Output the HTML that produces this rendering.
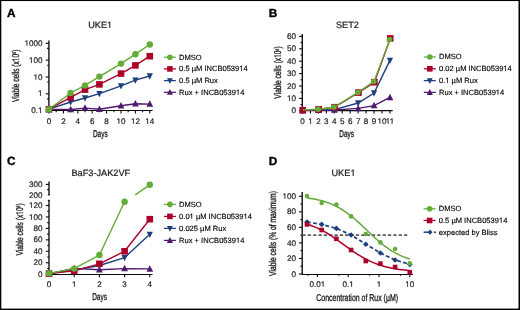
<!DOCTYPE html>
<html><head><meta charset="utf-8"><style>
html,body{margin:0;padding:0;background:#fff;}
svg{display:block;will-change:transform;}
text{font-family:"Liberation Sans",sans-serif;fill:#1a1a1a;text-rendering:geometricPrecision;}
.pl{font-size:11.8px;font-weight:bold;fill:#000;stroke:#000;stroke-width:0.35px;}
.ti{font-size:9.2px;stroke:#111;stroke-width:0.2px;}
.tk{font-size:8.1px;stroke:#1a1a1a;stroke-width:0.18px;}
.lg{font-size:7.55px;fill:#000;stroke:#000;stroke-width:0.14px;}
.ax{font-size:9.8px;stroke:#111;stroke-width:0.3px;}
.sup{font-size:5px;}
</style></head><body>
<svg width="520" height="310" viewBox="0 0 520 310">
<rect x="0" y="0" width="520" height="310" fill="#fff"/>
<rect x="0" y="0" width="520" height="1.05" fill="#000"/><rect x="0" y="0" width="1.3" height="310" fill="#000"/><rect x="518.5" y="0" width="1.5" height="310" fill="#000"/><rect x="0" y="308.6" width="520" height="1.4" fill="#000"/>
<text x="7.00" y="16.80" class="pl" text-anchor="start">A</text>
<text x="100.20" y="28.40" class="ti f1" text-anchor="middle">UKE1</text>
<line x1="48.90" y1="40.60" x2="48.90" y2="111.00" stroke="#0a0a0a" stroke-width="1.35"/>
<line x1="48.40" y1="110.50" x2="152.60" y2="110.50" stroke="#0a0a0a" stroke-width="1.1"/>
<line x1="45.70" y1="110.70" x2="48.90" y2="110.70" stroke="#0a0a0a" stroke-width="1.1"/>
<text x="42.60" y="113.30" class="tk f1" text-anchor="end">0.1</text>
<line x1="45.70" y1="93.85" x2="48.90" y2="93.85" stroke="#0a0a0a" stroke-width="1.1"/>
<text x="42.60" y="96.45" class="tk f1" text-anchor="end">1</text>
<line x1="45.70" y1="77.00" x2="48.90" y2="77.00" stroke="#0a0a0a" stroke-width="1.1"/>
<text x="42.60" y="79.60" class="tk f1" text-anchor="end">10</text>
<line x1="45.70" y1="60.15" x2="48.90" y2="60.15" stroke="#0a0a0a" stroke-width="1.1"/>
<text x="42.60" y="62.75" class="tk f1" text-anchor="end">100</text>
<line x1="45.70" y1="43.30" x2="48.90" y2="43.30" stroke="#0a0a0a" stroke-width="1.1"/>
<text x="42.60" y="45.90" class="tk f1" text-anchor="end">1000</text>
<line x1="47.10" y1="98.92" x2="48.90" y2="98.92" stroke="#0a0a0a" stroke-width="1.1"/>
<line x1="47.10" y1="82.07" x2="48.90" y2="82.07" stroke="#0a0a0a" stroke-width="1.1"/>
<line x1="47.10" y1="65.22" x2="48.90" y2="65.22" stroke="#0a0a0a" stroke-width="1.1"/>
<line x1="47.10" y1="48.37" x2="48.90" y2="48.37" stroke="#0a0a0a" stroke-width="1.1"/>
<line x1="49.00" y1="110.50" x2="49.00" y2="113.50" stroke="#0a0a0a" stroke-width="1.1"/>
<text x="49.00" y="123.60" class="tk" text-anchor="middle">0</text>
<line x1="56.20" y1="110.50" x2="56.20" y2="112.30" stroke="#0a0a0a" stroke-width="1.1"/>
<line x1="63.40" y1="110.50" x2="63.40" y2="113.50" stroke="#0a0a0a" stroke-width="1.1"/>
<text x="63.40" y="123.60" class="tk" text-anchor="middle">2</text>
<line x1="70.60" y1="110.50" x2="70.60" y2="112.30" stroke="#0a0a0a" stroke-width="1.1"/>
<line x1="77.80" y1="110.50" x2="77.80" y2="113.50" stroke="#0a0a0a" stroke-width="1.1"/>
<text x="77.80" y="123.60" class="tk" text-anchor="middle">4</text>
<line x1="85.00" y1="110.50" x2="85.00" y2="112.30" stroke="#0a0a0a" stroke-width="1.1"/>
<line x1="92.20" y1="110.50" x2="92.20" y2="113.50" stroke="#0a0a0a" stroke-width="1.1"/>
<text x="92.20" y="123.60" class="tk" text-anchor="middle">6</text>
<line x1="99.40" y1="110.50" x2="99.40" y2="112.30" stroke="#0a0a0a" stroke-width="1.1"/>
<line x1="106.60" y1="110.50" x2="106.60" y2="113.50" stroke="#0a0a0a" stroke-width="1.1"/>
<text x="106.60" y="123.60" class="tk" text-anchor="middle">8</text>
<line x1="113.80" y1="110.50" x2="113.80" y2="112.30" stroke="#0a0a0a" stroke-width="1.1"/>
<line x1="121.00" y1="110.50" x2="121.00" y2="113.50" stroke="#0a0a0a" stroke-width="1.1"/>
<text x="121.00" y="123.60" class="tk f1" text-anchor="middle">10</text>
<line x1="128.20" y1="110.50" x2="128.20" y2="112.30" stroke="#0a0a0a" stroke-width="1.1"/>
<line x1="135.40" y1="110.50" x2="135.40" y2="113.50" stroke="#0a0a0a" stroke-width="1.1"/>
<text x="135.40" y="123.60" class="tk f1" text-anchor="middle">12</text>
<line x1="142.60" y1="110.50" x2="142.60" y2="112.30" stroke="#0a0a0a" stroke-width="1.1"/>
<line x1="149.80" y1="110.50" x2="149.80" y2="113.50" stroke="#0a0a0a" stroke-width="1.1"/>
<text x="149.80" y="123.60" class="tk f1" text-anchor="middle">14</text>
<path d="M49.00,109.40 L70.60,109.50 L85.00,108.10 L99.40,109.30 L121.00,105.80 L135.40,103.80 L149.80,104.10" fill="none" stroke="#4e1a6e" stroke-width="1.4"/>
<path d="M45.60,112.13L52.40,112.13L49.00,105.63Z" fill="#4e1a6e"/>
<path d="M67.20,112.23L74.00,112.23L70.60,105.73Z" fill="#4e1a6e"/>
<path d="M81.60,110.83L88.40,110.83L85.00,104.33Z" fill="#4e1a6e"/>
<path d="M96.00,112.03L102.80,112.03L99.40,105.53Z" fill="#4e1a6e"/>
<path d="M117.60,108.53L124.40,108.53L121.00,102.03Z" fill="#4e1a6e"/>
<path d="M132.00,106.53L138.80,106.53L135.40,100.03Z" fill="#4e1a6e"/>
<path d="M146.40,106.83L153.20,106.83L149.80,100.33Z" fill="#4e1a6e"/>
<path d="M49.00,109.20 L70.60,102.00 L85.00,98.00 L99.40,93.60 L121.00,85.80 L135.40,80.20 L149.80,76.00" fill="none" stroke="#1d3f7c" stroke-width="1.4"/>
<path d="M45.90,106.55L52.10,106.55L49.00,112.85Z" fill="#1d3f7c"/>
<path d="M67.50,99.35L73.70,99.35L70.60,105.65Z" fill="#1d3f7c"/>
<path d="M81.90,95.35L88.10,95.35L85.00,101.65Z" fill="#1d3f7c"/>
<path d="M96.30,90.95L102.50,90.95L99.40,97.25Z" fill="#1d3f7c"/>
<path d="M117.90,83.15L124.10,83.15L121.00,89.45Z" fill="#1d3f7c"/>
<path d="M132.30,77.55L138.50,77.55L135.40,83.85Z" fill="#1d3f7c"/>
<path d="M146.70,73.35L152.90,73.35L149.80,79.65Z" fill="#1d3f7c"/>
<path d="M49.00,109.20 L70.60,97.40 L85.00,89.60 L99.40,84.40 L121.00,73.60 L135.40,65.40 L149.80,56.20" fill="none" stroke="#aa0029" stroke-width="1.4"/>
<rect x="45.70" y="105.90" width="6.6" height="6.6" fill="#aa0029"/>
<rect x="67.30" y="94.10" width="6.6" height="6.6" fill="#aa0029"/>
<rect x="81.70" y="86.30" width="6.6" height="6.6" fill="#aa0029"/>
<rect x="96.10" y="81.10" width="6.6" height="6.6" fill="#aa0029"/>
<rect x="117.70" y="70.30" width="6.6" height="6.6" fill="#aa0029"/>
<rect x="132.10" y="62.10" width="6.6" height="6.6" fill="#aa0029"/>
<rect x="146.50" y="52.90" width="6.6" height="6.6" fill="#aa0029"/>
<path d="M49.00,109.20 L70.60,93.00 L85.00,85.40 L99.40,76.60 L121.00,63.60 L135.40,54.20 L149.80,44.50" fill="none" stroke="#64ab38" stroke-width="1.4"/>
<circle cx="49.00" cy="109.20" r="3.2" fill="#64ab38"/>
<circle cx="70.60" cy="93.00" r="3.2" fill="#64ab38"/>
<circle cx="85.00" cy="85.40" r="3.2" fill="#64ab38"/>
<circle cx="99.40" cy="76.60" r="3.2" fill="#64ab38"/>
<circle cx="121.00" cy="63.60" r="3.2" fill="#64ab38"/>
<circle cx="135.40" cy="54.20" r="3.2" fill="#64ab38"/>
<circle cx="149.80" cy="44.50" r="3.2" fill="#64ab38"/>
<text class="ax" transform="translate(100.30,136.60) scale(0.66,1)" text-anchor="middle">Days</text>
<g transform="translate(18.60,75.80) rotate(-90) scale(0.677,1)"><text id="yt1" class="ax f1" x="0" y="0" text-anchor="middle">Viable cells (x10<tspan class="sup" dy="-2.6">6</tspan><tspan dy="2.6">)</tspan></text>
<rect x="21.79" y="-1.13" width="2.15" height="1.63" fill="#fff"/>
<rect x="25.14" y="-1.13" width="1.97" height="1.63" fill="#fff"/>
</g>
<path d="M163.90,57.20 L175.90,57.20" fill="none" stroke="#64ab38" stroke-width="1.25"/>
<circle cx="169.90" cy="57.20" r="2.8" fill="#64ab38"/>
<text x="179.10" y="59.50" class="lg" text-anchor="start">DMSO</text>
<path d="M163.90,68.90 L175.90,68.90" fill="none" stroke="#aa0029" stroke-width="1.25"/>
<rect x="167.10" y="66.10" width="5.6" height="5.6" fill="#aa0029"/>
<text x="179.10" y="71.20" class="lg f1" text-anchor="start">0.5 µM INCB053914</text>
<path d="M163.90,80.60 L175.90,80.60" fill="none" stroke="#1d3f7c" stroke-width="1.25"/>
<path d="M167.00,78.16L172.80,78.16L169.90,83.96Z" fill="#1d3f7c"/>
<text x="179.10" y="82.90" class="lg" text-anchor="start">0.5 µM Rux</text>
<path d="M163.90,92.30 L175.90,92.30" fill="none" stroke="#4e1a6e" stroke-width="1.25"/>
<path d="M166.80,94.78L173.00,94.78L169.90,88.88Z" fill="#4e1a6e"/>
<text x="179.10" y="94.60" class="lg f1" text-anchor="start">Rux + INCB053914</text>
<text x="268.80" y="17.20" class="pl" text-anchor="start">B</text>
<text x="347.40" y="28.40" class="ti" text-anchor="middle">SET2</text>
<line x1="302.30" y1="34.00" x2="302.30" y2="111.10" stroke="#0a0a0a" stroke-width="1.35"/>
<line x1="301.80" y1="110.60" x2="392.70" y2="110.60" stroke="#0a0a0a" stroke-width="1.1"/>
<line x1="299.10" y1="110.80" x2="302.30" y2="110.80" stroke="#0a0a0a" stroke-width="1.1"/>
<text x="296.00" y="113.40" class="tk" text-anchor="end">0</text>
<line x1="299.10" y1="98.40" x2="302.30" y2="98.40" stroke="#0a0a0a" stroke-width="1.1"/>
<text x="296.00" y="101.00" class="tk f1" text-anchor="end">10</text>
<line x1="299.10" y1="86.00" x2="302.30" y2="86.00" stroke="#0a0a0a" stroke-width="1.1"/>
<text x="296.00" y="88.60" class="tk" text-anchor="end">20</text>
<line x1="299.10" y1="73.60" x2="302.30" y2="73.60" stroke="#0a0a0a" stroke-width="1.1"/>
<text x="296.00" y="76.20" class="tk" text-anchor="end">30</text>
<line x1="299.10" y1="61.20" x2="302.30" y2="61.20" stroke="#0a0a0a" stroke-width="1.1"/>
<text x="296.00" y="63.80" class="tk" text-anchor="end">40</text>
<line x1="299.10" y1="48.80" x2="302.30" y2="48.80" stroke="#0a0a0a" stroke-width="1.1"/>
<text x="296.00" y="51.40" class="tk" text-anchor="end">50</text>
<line x1="299.10" y1="36.40" x2="302.30" y2="36.40" stroke="#0a0a0a" stroke-width="1.1"/>
<text x="296.00" y="39.00" class="tk" text-anchor="end">60</text>
<line x1="300.50" y1="104.60" x2="302.30" y2="104.60" stroke="#0a0a0a" stroke-width="1.1"/>
<line x1="300.50" y1="92.20" x2="302.30" y2="92.20" stroke="#0a0a0a" stroke-width="1.1"/>
<line x1="300.50" y1="79.80" x2="302.30" y2="79.80" stroke="#0a0a0a" stroke-width="1.1"/>
<line x1="300.50" y1="67.40" x2="302.30" y2="67.40" stroke="#0a0a0a" stroke-width="1.1"/>
<line x1="300.50" y1="55.00" x2="302.30" y2="55.00" stroke="#0a0a0a" stroke-width="1.1"/>
<line x1="300.50" y1="42.60" x2="302.30" y2="42.60" stroke="#0a0a0a" stroke-width="1.1"/>
<line x1="302.50" y1="110.60" x2="302.50" y2="113.60" stroke="#0a0a0a" stroke-width="1.1"/>
<text x="302.50" y="123.60" class="tk" text-anchor="middle">0</text>
<line x1="310.45" y1="110.60" x2="310.45" y2="113.60" stroke="#0a0a0a" stroke-width="1.1"/>
<text x="310.45" y="123.60" class="tk f1" text-anchor="middle">1</text>
<line x1="318.40" y1="110.60" x2="318.40" y2="113.60" stroke="#0a0a0a" stroke-width="1.1"/>
<text x="318.40" y="123.60" class="tk" text-anchor="middle">2</text>
<line x1="326.35" y1="110.60" x2="326.35" y2="113.60" stroke="#0a0a0a" stroke-width="1.1"/>
<text x="326.35" y="123.60" class="tk" text-anchor="middle">3</text>
<line x1="334.30" y1="110.60" x2="334.30" y2="113.60" stroke="#0a0a0a" stroke-width="1.1"/>
<text x="334.30" y="123.60" class="tk" text-anchor="middle">4</text>
<line x1="342.25" y1="110.60" x2="342.25" y2="113.60" stroke="#0a0a0a" stroke-width="1.1"/>
<text x="342.25" y="123.60" class="tk" text-anchor="middle">5</text>
<line x1="350.20" y1="110.60" x2="350.20" y2="113.60" stroke="#0a0a0a" stroke-width="1.1"/>
<text x="350.20" y="123.60" class="tk" text-anchor="middle">6</text>
<line x1="358.15" y1="110.60" x2="358.15" y2="113.60" stroke="#0a0a0a" stroke-width="1.1"/>
<text x="358.15" y="123.60" class="tk" text-anchor="middle">7</text>
<line x1="366.10" y1="110.60" x2="366.10" y2="113.60" stroke="#0a0a0a" stroke-width="1.1"/>
<text x="366.10" y="123.60" class="tk" text-anchor="middle">8</text>
<line x1="374.05" y1="110.60" x2="374.05" y2="113.60" stroke="#0a0a0a" stroke-width="1.1"/>
<text x="374.05" y="123.60" class="tk" text-anchor="middle">9</text>
<line x1="382.00" y1="110.60" x2="382.00" y2="113.60" stroke="#0a0a0a" stroke-width="1.1"/>
<text x="382.00" y="123.60" class="tk f1" text-anchor="middle">10</text>
<line x1="389.95" y1="110.60" x2="389.95" y2="113.60" stroke="#0a0a0a" stroke-width="1.1"/>
<text x="389.95" y="123.60" class="tk f1" text-anchor="middle">11</text>
<path d="M302.50,110.40 L318.40,110.20 L334.30,110.00 L358.15,108.40 L374.05,105.60 L389.95,97.40" fill="none" stroke="#4e1a6e" stroke-width="1.4"/>
<path d="M299.10,113.13L305.90,113.13L302.50,106.63Z" fill="#4e1a6e"/>
<path d="M315.00,112.93L321.80,112.93L318.40,106.43Z" fill="#4e1a6e"/>
<path d="M330.90,112.73L337.70,112.73L334.30,106.23Z" fill="#4e1a6e"/>
<path d="M354.75,111.13L361.55,111.13L358.15,104.63Z" fill="#4e1a6e"/>
<path d="M370.65,108.33L377.45,108.33L374.05,101.83Z" fill="#4e1a6e"/>
<path d="M386.55,100.13L393.35,100.13L389.95,93.63Z" fill="#4e1a6e"/>
<path d="M302.50,110.20 L318.40,110.00 L334.30,109.60 L358.15,103.00 L374.05,93.00 L389.95,60.40" fill="none" stroke="#1d3f7c" stroke-width="1.4"/>
<path d="M299.40,107.55L305.60,107.55L302.50,113.85Z" fill="#1d3f7c"/>
<path d="M315.30,107.35L321.50,107.35L318.40,113.65Z" fill="#1d3f7c"/>
<path d="M331.20,106.95L337.40,106.95L334.30,113.25Z" fill="#1d3f7c"/>
<path d="M355.05,100.35L361.25,100.35L358.15,106.65Z" fill="#1d3f7c"/>
<path d="M370.95,90.35L377.15,90.35L374.05,96.65Z" fill="#1d3f7c"/>
<path d="M386.85,57.75L393.05,57.75L389.95,64.05Z" fill="#1d3f7c"/>
<path d="M302.80,110.20 L318.70,109.40 L334.60,107.20 L358.45,92.60 L374.35,82.20 L390.25,38.40" fill="none" stroke="#aa0029" stroke-width="1.4"/>
<rect x="299.50" y="106.90" width="6.6" height="6.6" fill="#aa0029"/>
<rect x="315.40" y="106.10" width="6.6" height="6.6" fill="#aa0029"/>
<rect x="331.30" y="103.90" width="6.6" height="6.6" fill="#aa0029"/>
<rect x="355.15" y="89.30" width="6.6" height="6.6" fill="#aa0029"/>
<rect x="371.05" y="78.90" width="6.6" height="6.6" fill="#aa0029"/>
<rect x="386.95" y="35.10" width="6.6" height="6.6" fill="#aa0029"/>
<path d="M302.50,110.00 L318.40,109.20 L334.30,107.00 L358.15,92.40 L374.05,81.40 L389.95,39.60" fill="none" stroke="#64ab38" stroke-width="1.4"/>
<circle cx="318.10" cy="109.20" r="2.75" fill="#64ab38"/>
<circle cx="334.00" cy="107.00" r="2.75" fill="#64ab38"/>
<circle cx="357.85" cy="92.40" r="2.75" fill="#64ab38"/>
<circle cx="373.75" cy="81.40" r="2.75" fill="#64ab38"/>
<circle cx="389.65" cy="39.60" r="2.75" fill="#64ab38"/>
<text class="ax" transform="translate(346.70,136.80) scale(0.66,1)" text-anchor="middle">Days</text>
<g transform="translate(281.30,72.50) rotate(-90) scale(0.677,1)"><text id="yt2" class="ax f1" x="0" y="0" text-anchor="middle">Viable cells (x10<tspan class="sup" dy="-2.6">6</tspan><tspan dy="2.6">)</tspan></text>
<rect x="21.79" y="-1.13" width="2.15" height="1.63" fill="#fff"/>
<rect x="25.14" y="-1.13" width="1.97" height="1.63" fill="#fff"/>
</g>
<path d="M423.80,57.00 L435.80,57.00" fill="none" stroke="#64ab38" stroke-width="1.25"/>
<circle cx="429.80" cy="57.00" r="2.8" fill="#64ab38"/>
<text x="439.00" y="59.30" class="lg" text-anchor="start">DMSO</text>
<path d="M423.80,68.80 L435.80,68.80" fill="none" stroke="#aa0029" stroke-width="1.25"/>
<rect x="427.00" y="66.00" width="5.6" height="5.6" fill="#aa0029"/>
<text x="439.00" y="71.10" class="lg f1" text-anchor="start">0.02 µM INCB053914</text>
<path d="M423.80,80.60 L435.80,80.60" fill="none" stroke="#1d3f7c" stroke-width="1.25"/>
<path d="M426.90,78.16L432.70,78.16L429.80,83.96Z" fill="#1d3f7c"/>
<text x="439.00" y="82.90" class="lg f1" text-anchor="start">0.1 µM Rux</text>
<path d="M423.80,92.40 L435.80,92.40" fill="none" stroke="#4e1a6e" stroke-width="1.25"/>
<path d="M426.70,94.88L432.90,94.88L429.80,88.98Z" fill="#4e1a6e"/>
<text x="439.00" y="94.70" class="lg f1" text-anchor="start">Rux + INCB053914</text>
<text x="7.10" y="164.80" class="pl" text-anchor="start">C</text>
<text x="100.80" y="176.00" class="ti" text-anchor="middle">BaF3-JAK2VF</text>
<line x1="49.00" y1="181.40" x2="49.00" y2="195.00" stroke="#0a0a0a" stroke-width="1.35"/>
<line x1="47.80" y1="194.90" x2="49.80" y2="194.90" stroke="#0a0a0a" stroke-width="1.1"/>
<line x1="45.80" y1="184.40" x2="49.00" y2="184.40" stroke="#0a0a0a" stroke-width="1.1"/>
<text x="42.40" y="187.00" class="tk" text-anchor="end">300</text>
<line x1="47.20" y1="189.65" x2="49.00" y2="189.65" stroke="#0a0a0a" stroke-width="1.1"/>
<text x="42.40" y="197.50" class="tk" text-anchor="end">200</text>
<line x1="49.00" y1="200.30" x2="49.00" y2="274.70" stroke="#0a0a0a" stroke-width="1.35"/>
<line x1="47.80" y1="200.40" x2="49.80" y2="200.40" stroke="#0a0a0a" stroke-width="1.1"/>
<line x1="45.80" y1="274.20" x2="49.00" y2="274.20" stroke="#0a0a0a" stroke-width="1.1"/>
<text x="42.40" y="276.80" class="tk" text-anchor="end">0</text>
<line x1="45.80" y1="262.75" x2="49.00" y2="262.75" stroke="#0a0a0a" stroke-width="1.1"/>
<text x="42.40" y="265.35" class="tk" text-anchor="end">20</text>
<line x1="45.80" y1="251.30" x2="49.00" y2="251.30" stroke="#0a0a0a" stroke-width="1.1"/>
<text x="42.40" y="253.90" class="tk" text-anchor="end">40</text>
<line x1="45.80" y1="239.85" x2="49.00" y2="239.85" stroke="#0a0a0a" stroke-width="1.1"/>
<text x="42.40" y="242.45" class="tk" text-anchor="end">60</text>
<line x1="45.80" y1="228.40" x2="49.00" y2="228.40" stroke="#0a0a0a" stroke-width="1.1"/>
<text x="42.40" y="231.00" class="tk" text-anchor="end">80</text>
<line x1="45.80" y1="216.95" x2="49.00" y2="216.95" stroke="#0a0a0a" stroke-width="1.1"/>
<text x="42.40" y="219.55" class="tk f1" text-anchor="end">100</text>
<line x1="45.80" y1="205.50" x2="49.00" y2="205.50" stroke="#0a0a0a" stroke-width="1.1"/>
<text x="42.40" y="208.10" class="tk f1" text-anchor="end">120</text>
<line x1="47.20" y1="268.47" x2="49.00" y2="268.47" stroke="#0a0a0a" stroke-width="1.1"/>
<line x1="47.20" y1="257.02" x2="49.00" y2="257.02" stroke="#0a0a0a" stroke-width="1.1"/>
<line x1="47.20" y1="245.57" x2="49.00" y2="245.57" stroke="#0a0a0a" stroke-width="1.1"/>
<line x1="47.20" y1="234.12" x2="49.00" y2="234.12" stroke="#0a0a0a" stroke-width="1.1"/>
<line x1="47.20" y1="222.67" x2="49.00" y2="222.67" stroke="#0a0a0a" stroke-width="1.1"/>
<line x1="47.20" y1="211.22" x2="49.00" y2="211.22" stroke="#0a0a0a" stroke-width="1.1"/>
<line x1="48.50" y1="274.50" x2="152.60" y2="274.50" stroke="#0a0a0a" stroke-width="1.1"/>
<line x1="49.00" y1="274.20" x2="49.00" y2="277.20" stroke="#0a0a0a" stroke-width="1.1"/>
<text x="49.00" y="287.40" class="tk" text-anchor="middle">0</text>
<line x1="74.20" y1="274.20" x2="74.20" y2="277.20" stroke="#0a0a0a" stroke-width="1.1"/>
<text x="74.20" y="287.40" class="tk f1" text-anchor="middle">1</text>
<line x1="99.40" y1="274.20" x2="99.40" y2="277.20" stroke="#0a0a0a" stroke-width="1.1"/>
<text x="99.40" y="287.40" class="tk" text-anchor="middle">2</text>
<line x1="124.60" y1="274.20" x2="124.60" y2="277.20" stroke="#0a0a0a" stroke-width="1.1"/>
<text x="124.60" y="287.40" class="tk" text-anchor="middle">3</text>
<line x1="149.80" y1="274.20" x2="149.80" y2="277.20" stroke="#0a0a0a" stroke-width="1.1"/>
<text x="149.80" y="287.40" class="tk" text-anchor="middle">4</text>
<path d="M49.00,273.80 L74.20,268.40 L99.40,269.80 L124.60,268.60 L149.80,268.90" fill="none" stroke="#4e1a6e" stroke-width="1.4"/>
<path d="M45.60,276.53L52.40,276.53L49.00,270.03Z" fill="#4e1a6e"/>
<path d="M70.80,271.13L77.60,271.13L74.20,264.63Z" fill="#4e1a6e"/>
<path d="M96.00,272.53L102.80,272.53L99.40,266.03Z" fill="#4e1a6e"/>
<path d="M121.20,271.33L128.00,271.33L124.60,264.83Z" fill="#4e1a6e"/>
<path d="M146.40,271.63L153.20,271.63L149.80,265.13Z" fill="#4e1a6e"/>
<path d="M49.00,273.60 L74.20,270.00 L99.40,265.50 L124.60,257.60 L149.80,234.30" fill="none" stroke="#1d3f7c" stroke-width="1.4"/>
<path d="M45.90,270.95L52.10,270.95L49.00,277.25Z" fill="#1d3f7c"/>
<path d="M71.10,267.35L77.30,267.35L74.20,273.65Z" fill="#1d3f7c"/>
<path d="M96.30,262.85L102.50,262.85L99.40,269.15Z" fill="#1d3f7c"/>
<path d="M121.50,254.95L127.70,254.95L124.60,261.25Z" fill="#1d3f7c"/>
<path d="M146.70,231.65L152.90,231.65L149.80,237.95Z" fill="#1d3f7c"/>
<path d="M49.00,273.60 L74.20,270.80 L99.40,263.80 L124.60,251.30 L149.80,219.20" fill="none" stroke="#aa0029" stroke-width="1.4"/>
<rect x="45.70" y="270.30" width="6.6" height="6.6" fill="#aa0029"/>
<rect x="70.90" y="267.50" width="6.6" height="6.6" fill="#aa0029"/>
<rect x="96.10" y="260.50" width="6.6" height="6.6" fill="#aa0029"/>
<rect x="121.30" y="248.00" width="6.6" height="6.6" fill="#aa0029"/>
<rect x="146.50" y="215.90" width="6.6" height="6.6" fill="#aa0029"/>
<path d="M49.00,273.40 L74.20,268.60 L99.40,255.00 L124.60,201.80" fill="none" stroke="#64ab38" stroke-width="1.4"/>
<circle cx="49.00" cy="273.40" r="3.2" fill="#64ab38"/>
<circle cx="74.20" cy="268.60" r="3.2" fill="#64ab38"/>
<circle cx="99.40" cy="255.00" r="3.2" fill="#64ab38"/>
<circle cx="124.60" cy="201.80" r="3.2" fill="#64ab38"/>
<path d="M135.20,194.90 L149.80,184.80" fill="none" stroke="#64ab38" stroke-width="1.4"/>
<circle cx="149.80" cy="184.80" r="3.2" fill="#64ab38"/>
<text class="ax" transform="translate(99.50,299.70) scale(0.66,1)" text-anchor="middle">Days</text>
<g transform="translate(22.80,229.45) rotate(-90) scale(0.677,1)"><text id="yt3" class="ax f1" x="0" y="0" text-anchor="middle">Viable cells (x10<tspan class="sup" dy="-2.6">6</tspan><tspan dy="2.6">)</tspan></text>
<rect x="21.79" y="-1.13" width="2.15" height="1.63" fill="#fff"/>
<rect x="25.14" y="-1.13" width="1.97" height="1.63" fill="#fff"/>
</g>
<path d="M163.90,204.40 L175.90,204.40" fill="none" stroke="#64ab38" stroke-width="1.25"/>
<circle cx="169.90" cy="204.40" r="2.8" fill="#64ab38"/>
<text x="179.10" y="206.70" class="lg" text-anchor="start">DMSO</text>
<path d="M163.90,216.40 L175.90,216.40" fill="none" stroke="#aa0029" stroke-width="1.25"/>
<rect x="167.10" y="213.60" width="5.6" height="5.6" fill="#aa0029"/>
<text x="179.10" y="218.70" class="lg f1" text-anchor="start">0.01 µM INCB053914</text>
<path d="M163.90,228.40 L175.90,228.40" fill="none" stroke="#1d3f7c" stroke-width="1.25"/>
<path d="M167.00,225.96L172.80,225.96L169.90,231.76Z" fill="#1d3f7c"/>
<text x="179.10" y="230.70" class="lg" text-anchor="start">0.025 µM Rux</text>
<path d="M163.90,240.40 L175.90,240.40" fill="none" stroke="#4e1a6e" stroke-width="1.25"/>
<path d="M166.80,242.88L173.00,242.88L169.90,236.98Z" fill="#4e1a6e"/>
<text x="179.10" y="242.70" class="lg f1" text-anchor="start">Rux + INCB053914</text>
<text x="268.80" y="164.50" class="pl" text-anchor="start">D</text>
<text x="343.50" y="176.00" class="ti f1" text-anchor="middle">UKE1</text>
<line x1="302.20" y1="192.00" x2="302.20" y2="274.50" stroke="#0a0a0a" stroke-width="1.35"/>
<line x1="301.70" y1="274.50" x2="413.00" y2="274.50" stroke="#0a0a0a" stroke-width="1.1"/>
<line x1="299.00" y1="274.00" x2="302.20" y2="274.00" stroke="#0a0a0a" stroke-width="1.1"/>
<text x="296.00" y="276.60" class="tk" text-anchor="end">0</text>
<line x1="299.00" y1="258.46" x2="302.20" y2="258.46" stroke="#0a0a0a" stroke-width="1.1"/>
<text x="296.00" y="261.06" class="tk" text-anchor="end">20</text>
<line x1="299.00" y1="242.92" x2="302.20" y2="242.92" stroke="#0a0a0a" stroke-width="1.1"/>
<text x="296.00" y="245.52" class="tk" text-anchor="end">40</text>
<line x1="299.00" y1="227.38" x2="302.20" y2="227.38" stroke="#0a0a0a" stroke-width="1.1"/>
<text x="296.00" y="229.98" class="tk" text-anchor="end">60</text>
<line x1="299.00" y1="211.84" x2="302.20" y2="211.84" stroke="#0a0a0a" stroke-width="1.1"/>
<text x="296.00" y="214.44" class="tk" text-anchor="end">80</text>
<line x1="299.00" y1="196.30" x2="302.20" y2="196.30" stroke="#0a0a0a" stroke-width="1.1"/>
<text x="296.00" y="198.90" class="tk f1" text-anchor="end">100</text>
<line x1="300.40" y1="266.23" x2="302.20" y2="266.23" stroke="#0a0a0a" stroke-width="1.1"/>
<line x1="300.40" y1="250.69" x2="302.20" y2="250.69" stroke="#0a0a0a" stroke-width="1.1"/>
<line x1="300.40" y1="235.15" x2="302.20" y2="235.15" stroke="#0a0a0a" stroke-width="1.1"/>
<line x1="300.40" y1="219.61" x2="302.20" y2="219.61" stroke="#0a0a0a" stroke-width="1.1"/>
<line x1="300.40" y1="204.07" x2="302.20" y2="204.07" stroke="#0a0a0a" stroke-width="1.1"/>
<line x1="317.40" y1="274.00" x2="317.40" y2="277.00" stroke="#0a0a0a" stroke-width="1.1"/>
<text x="317.40" y="287.40" class="tk f1" text-anchor="middle">0.01</text>
<line x1="348.20" y1="274.00" x2="348.20" y2="277.00" stroke="#0a0a0a" stroke-width="1.1"/>
<text x="348.20" y="287.40" class="tk f1" text-anchor="middle">0.1</text>
<line x1="379.00" y1="274.00" x2="379.00" y2="277.00" stroke="#0a0a0a" stroke-width="1.1"/>
<text x="379.00" y="287.40" class="tk f1" text-anchor="middle">1</text>
<line x1="409.80" y1="274.00" x2="409.80" y2="277.00" stroke="#0a0a0a" stroke-width="1.1"/>
<text x="409.80" y="287.40" class="tk f1" text-anchor="middle">10</text>
<line x1="308.13" y1="274.00" x2="308.13" y2="275.80" stroke="#0a0a0a" stroke-width="1.1"/>
<line x1="338.93" y1="274.00" x2="338.93" y2="275.80" stroke="#0a0a0a" stroke-width="1.1"/>
<line x1="369.73" y1="274.00" x2="369.73" y2="275.80" stroke="#0a0a0a" stroke-width="1.1"/>
<line x1="400.53" y1="274.00" x2="400.53" y2="275.80" stroke="#0a0a0a" stroke-width="1.1"/>
<path d="M302.40,235.15 L408.00,235.15" fill="none" stroke="#5a5a5a" stroke-width="1.6" stroke-dasharray="3.2,2.15"/>
<path d="M307.00,222.00 L321.70,224.40 L336.40,228.40 L351.10,235.00 L365.80,244.20 L380.40,253.00 L395.10,260.00 L409.80,264.40" fill="none" stroke="#1d3f7c" stroke-width="1.7" stroke-dasharray="3.8,2.4"/>
<path d="M307.00,219.20L309.90,222.00L307.00,224.80L304.10,222.00Z" fill="#1d3f7c"/>
<path d="M321.70,221.60L324.60,224.40L321.70,227.20L318.80,224.40Z" fill="#1d3f7c"/>
<path d="M336.40,225.60L339.30,228.40L336.40,231.20L333.50,228.40Z" fill="#1d3f7c"/>
<path d="M351.10,232.20L354.00,235.00L351.10,237.80L348.20,235.00Z" fill="#1d3f7c"/>
<path d="M365.80,241.40L368.70,244.20L365.80,247.00L362.90,244.20Z" fill="#1d3f7c"/>
<path d="M380.40,250.20L383.30,253.00L380.40,255.80L377.50,253.00Z" fill="#1d3f7c"/>
<path d="M395.10,257.20L398.00,260.00L395.10,262.80L392.20,260.00Z" fill="#1d3f7c"/>
<path d="M409.80,261.60L412.70,264.40L409.80,267.20L406.90,264.40Z" fill="#1d3f7c"/>
<path d="M307.00,224.11 L308.75,224.68 L310.49,225.28 L312.24,225.93 L313.98,226.62 L315.73,227.35 L317.47,228.13 L319.22,228.96 L320.97,229.83 L322.71,230.75 L324.46,231.71 L326.20,232.71 L327.95,233.76 L329.69,234.84 L331.44,235.97 L333.19,237.12 L334.93,238.31 L336.68,239.53 L338.42,240.76 L340.17,242.02 L341.92,243.28 L343.66,244.55 L345.41,245.83 L347.15,247.09 L348.90,248.35 L350.64,249.59 L352.39,250.82 L354.14,252.01 L355.88,253.18 L357.63,254.32 L359.37,255.41 L361.12,256.47 L362.86,257.49 L364.61,258.47 L366.36,259.40 L368.10,260.28 L369.85,261.12 L371.59,261.92 L373.34,262.67 L375.08,263.37 L376.83,264.03 L378.58,264.65 L380.32,265.23 L382.07,265.77 L383.81,266.28 L385.56,266.74 L387.31,267.18 L389.05,267.58 L390.80,267.95 L392.54,268.29 L394.29,268.61 L396.03,268.90 L397.78,269.17 L399.53,269.42 L401.27,269.65 L403.02,269.86 L404.76,270.05 L406.51,270.23 L408.25,270.39 L410.00,270.54" fill="none" stroke="#aa0029" stroke-width="1.5"/>
<rect x="304.70" y="222.10" width="4.6" height="4.6" fill="#aa0029"/>
<rect x="319.40" y="227.70" width="4.6" height="4.6" fill="#aa0029"/>
<rect x="334.10" y="236.50" width="4.6" height="4.6" fill="#aa0029"/>
<rect x="348.80" y="247.70" width="4.6" height="4.6" fill="#aa0029"/>
<rect x="363.50" y="258.70" width="4.6" height="4.6" fill="#aa0029"/>
<rect x="378.10" y="261.30" width="4.6" height="4.6" fill="#aa0029"/>
<rect x="392.80" y="264.70" width="4.6" height="4.6" fill="#aa0029"/>
<rect x="407.50" y="270.10" width="4.6" height="4.6" fill="#aa0029"/>
<path d="M307.00,197.90 L308.75,198.14 L310.49,198.41 L312.24,198.70 L313.98,199.01 L315.73,199.36 L317.47,199.73 L319.22,200.14 L320.97,200.58 L322.71,201.06 L324.46,201.58 L326.20,202.14 L327.95,202.75 L329.69,203.40 L331.44,204.11 L333.19,204.86 L334.93,205.68 L336.68,206.54 L338.42,207.47 L340.17,208.46 L341.92,209.51 L343.66,210.62 L345.41,211.79 L347.15,213.03 L348.90,214.32 L350.64,215.67 L352.39,217.07 L354.14,218.53 L355.88,220.04 L357.63,221.58 L359.37,223.17 L361.12,224.79 L362.86,226.43 L364.61,228.08 L366.36,229.75 L368.10,231.42 L369.85,233.08 L371.59,234.73 L373.34,236.36 L375.08,237.96 L376.83,239.53 L378.58,241.06 L380.32,242.54 L382.07,243.97 L383.81,245.35 L385.56,246.68 L387.31,247.94 L389.05,249.15 L390.80,250.29 L392.54,251.37 L394.29,252.39 L396.03,253.35 L397.78,254.25 L399.53,255.09 L401.27,255.87 L403.02,256.61 L404.76,257.29 L406.51,257.92 L408.25,258.50 L410.00,259.05" fill="none" stroke="#64ab38" stroke-width="1.5"/>
<circle cx="307.00" cy="196.00" r="2.3" fill="#64ab38"/>
<circle cx="321.70" cy="203.00" r="2.3" fill="#64ab38"/>
<circle cx="336.40" cy="204.60" r="2.3" fill="#64ab38"/>
<circle cx="351.10" cy="216.40" r="2.3" fill="#64ab38"/>
<circle cx="365.80" cy="234.00" r="2.3" fill="#64ab38"/>
<circle cx="380.40" cy="242.40" r="2.3" fill="#64ab38"/>
<circle cx="395.10" cy="249.00" r="2.3" fill="#64ab38"/>
<circle cx="409.80" cy="263.40" r="2.3" fill="#64ab38"/>
<text class="ax" transform="translate(357.20,301.00) scale(0.71,1)" text-anchor="middle">Concentration of Rux (µM)</text>
<g transform="translate(276.30,233.50) rotate(-90) scale(0.688,1)"><text id="yt4" class="ax f1" x="0" y="0" text-anchor="middle">Viable cells (% of maximum)</text>
</g>
<path d="M423.60,208.80 L435.60,208.80" fill="none" stroke="#64ab38" stroke-width="1.25"/>
<circle cx="429.60" cy="208.80" r="2.8" fill="#64ab38"/>
<text x="438.80" y="211.10" class="lg" text-anchor="start">DMSO</text>
<path d="M423.60,220.50 L435.60,220.50" fill="none" stroke="#aa0029" stroke-width="1.25"/>
<rect x="426.80" y="217.70" width="5.6" height="5.6" fill="#aa0029"/>
<text x="438.80" y="222.80" class="lg f1" text-anchor="start">0.5 µM INCB053914</text>
<path d="M423.60,232.20 L428.00,232.20" fill="none" stroke="#1d3f7c" stroke-width="1.5"/>
<path d="M433.80,232.20 L436.00,232.20" fill="none" stroke="#1d3f7c" stroke-width="1.5"/>
<path d="M430.00,229.60L432.50,232.20L430.00,234.80L427.50,232.20Z" fill="#1d3f7c"/>
<text x="438.80" y="234.50" class="lg" text-anchor="start">expected by Bliss</text>
<rect x="107.18" y="27.00" width="2.09" height="1.60" fill="#fff"/>
<rect x="110.33" y="27.00" width="1.87" height="1.60" fill="#fff"/>
<rect x="38.10" y="112.00" width="1.91" height="1.60" fill="#fff"/>
<rect x="40.95" y="112.00" width="1.70" height="1.60" fill="#fff"/>
<rect x="38.10" y="95.00" width="1.91" height="1.60" fill="#fff"/>
<rect x="40.95" y="95.00" width="1.70" height="1.60" fill="#fff"/>
<rect x="33.60" y="79.00" width="1.91" height="1.60" fill="#fff"/>
<rect x="36.45" y="79.00" width="1.70" height="1.60" fill="#fff"/>
<rect x="29.10" y="62.00" width="1.91" height="1.60" fill="#fff"/>
<rect x="31.95" y="62.00" width="1.70" height="1.60" fill="#fff"/>
<rect x="24.60" y="45.00" width="1.91" height="1.60" fill="#fff"/>
<rect x="27.45" y="45.00" width="1.70" height="1.60" fill="#fff"/>
<rect x="116.51" y="123.00" width="1.91" height="1.60" fill="#fff"/>
<rect x="119.35" y="123.00" width="1.70" height="1.60" fill="#fff"/>
<rect x="130.91" y="123.00" width="1.91" height="1.60" fill="#fff"/>
<rect x="133.75" y="123.00" width="1.70" height="1.60" fill="#fff"/>
<rect x="145.31" y="123.00" width="1.91" height="1.60" fill="#fff"/>
<rect x="148.15" y="123.00" width="1.70" height="1.60" fill="#fff"/>
<rect x="239.20" y="70.00" width="1.83" height="1.60" fill="#fff"/>
<rect x="241.88" y="70.00" width="1.62" height="1.60" fill="#fff"/>
<rect x="235.90" y="94.00" width="1.83" height="1.60" fill="#fff"/>
<rect x="238.58" y="94.00" width="1.62" height="1.60" fill="#fff"/>
<rect x="287.00" y="100.00" width="1.91" height="1.60" fill="#fff"/>
<rect x="289.85" y="100.00" width="1.70" height="1.60" fill="#fff"/>
<rect x="308.21" y="123.00" width="1.91" height="1.60" fill="#fff"/>
<rect x="311.05" y="123.00" width="1.70" height="1.60" fill="#fff"/>
<rect x="377.51" y="123.00" width="1.91" height="1.60" fill="#fff"/>
<rect x="380.35" y="123.00" width="1.70" height="1.60" fill="#fff"/>
<rect x="385.76" y="123.00" width="1.91" height="1.60" fill="#fff"/>
<rect x="388.61" y="123.00" width="1.70" height="1.60" fill="#fff"/>
<rect x="389.65" y="123.00" width="1.91" height="1.60" fill="#fff"/>
<rect x="392.50" y="123.00" width="1.70" height="1.60" fill="#fff"/>
<rect x="503.30" y="70.00" width="1.83" height="1.60" fill="#fff"/>
<rect x="505.98" y="70.00" width="1.62" height="1.60" fill="#fff"/>
<rect x="445.26" y="82.00" width="1.83" height="1.60" fill="#fff"/>
<rect x="447.94" y="82.00" width="1.62" height="1.60" fill="#fff"/>
<rect x="495.80" y="94.00" width="1.83" height="1.60" fill="#fff"/>
<rect x="498.48" y="94.00" width="1.62" height="1.60" fill="#fff"/>
<rect x="28.90" y="219.00" width="1.91" height="1.60" fill="#fff"/>
<rect x="31.75" y="219.00" width="1.70" height="1.60" fill="#fff"/>
<rect x="28.90" y="207.00" width="1.91" height="1.60" fill="#fff"/>
<rect x="31.75" y="207.00" width="1.70" height="1.60" fill="#fff"/>
<rect x="71.96" y="286.00" width="1.91" height="1.60" fill="#fff"/>
<rect x="74.80" y="286.00" width="1.70" height="1.60" fill="#fff"/>
<rect x="189.56" y="218.00" width="1.83" height="1.60" fill="#fff"/>
<rect x="192.24" y="218.00" width="1.62" height="1.60" fill="#fff"/>
<rect x="243.40" y="218.00" width="1.83" height="1.60" fill="#fff"/>
<rect x="246.08" y="218.00" width="1.62" height="1.60" fill="#fff"/>
<rect x="235.90" y="242.00" width="1.83" height="1.60" fill="#fff"/>
<rect x="238.58" y="242.00" width="1.62" height="1.60" fill="#fff"/>
<rect x="350.48" y="175.00" width="2.09" height="1.60" fill="#fff"/>
<rect x="353.63" y="175.00" width="1.87" height="1.60" fill="#fff"/>
<rect x="282.50" y="198.00" width="1.91" height="1.60" fill="#fff"/>
<rect x="285.35" y="198.00" width="1.70" height="1.60" fill="#fff"/>
<rect x="320.78" y="286.00" width="1.91" height="1.60" fill="#fff"/>
<rect x="323.63" y="286.00" width="1.70" height="1.60" fill="#fff"/>
<rect x="349.33" y="286.00" width="1.91" height="1.60" fill="#fff"/>
<rect x="352.18" y="286.00" width="1.70" height="1.60" fill="#fff"/>
<rect x="376.76" y="286.00" width="1.91" height="1.60" fill="#fff"/>
<rect x="379.60" y="286.00" width="1.70" height="1.60" fill="#fff"/>
<rect x="405.31" y="286.00" width="1.91" height="1.60" fill="#fff"/>
<rect x="408.15" y="286.00" width="1.70" height="1.60" fill="#fff"/>
<rect x="498.90" y="222.00" width="1.83" height="1.60" fill="#fff"/>
<rect x="501.58" y="222.00" width="1.62" height="1.60" fill="#fff"/>
</svg>
</body></html>
